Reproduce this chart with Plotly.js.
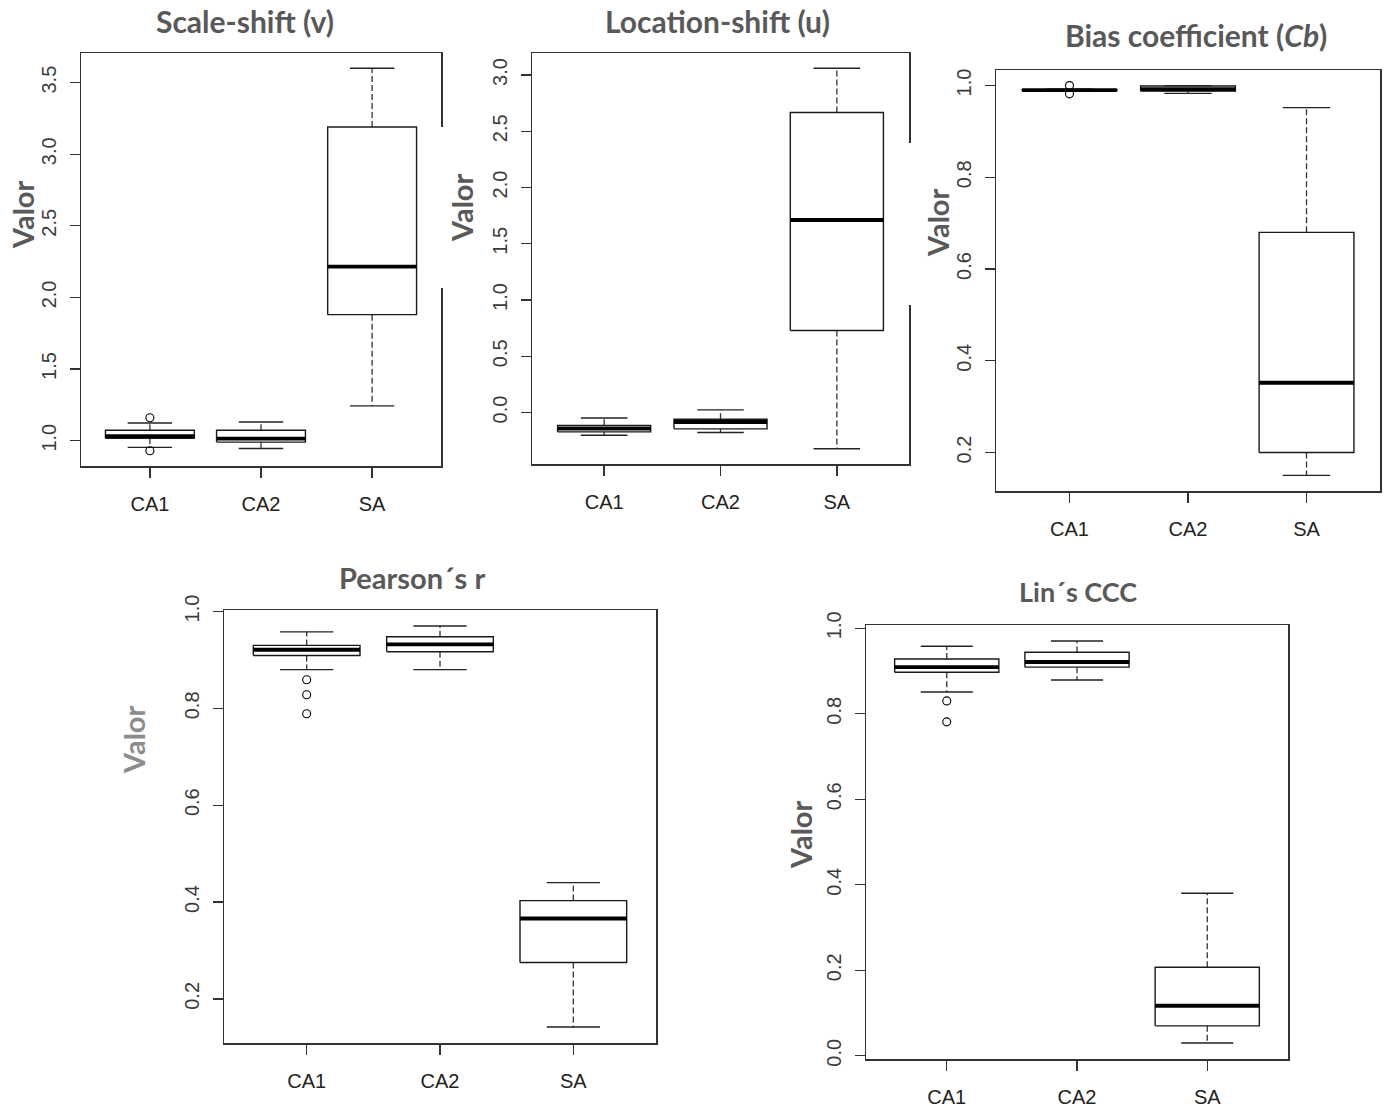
<!DOCTYPE html>
<html><head><meta charset="utf-8">
<script src="https://cdn.plot.ly/plotly-3.0.1.min.js"></script>
<style>html,body{margin:0;padding:0;background:#fff}#chart{width:1385px;height:1116px}</style>
</head><body><div id="chart"></div>
<script>
const categories = ['CA1', 'CA2', 'SA'];

// Scale-shift (v)
const scaleLower    = [0.953, 0.945, 1.243];
const scaleQ1       = [1.017, 0.990, 1.880];
const scaleMedian   = [1.032, 1.015, 2.215];
const scaleQ3       = [1.073, 1.073, 3.190];
const scaleUpper    = [1.123, 1.130, 3.600];
const scaleOutliers = [[1.160, 0.930], [], []];
const scaleTicks    = [1.0, 1.5, 2.0, 2.5, 3.0, 3.5];

// Location-shift (u)
const locLower    = [-0.202, -0.178, -0.322];
const locQ1       = [-0.172, -0.145, 0.729];
const locMedian   = [-0.142, -0.084, 1.711];
const locQ3       = [-0.114, -0.060, 2.666];
const locUpper    = [-0.048, 0.024, 3.060];
const locOutliers = [[], [], []];
const locTicks    = [0.0, 0.5, 1.0, 1.5, 2.0, 2.5, 3.0];

// Bias coefficient (Cb)
const biasLower    = [0.988, 0.983, 0.150];
const biasQ1       = [0.989, 0.988, 0.200];
const biasMedian   = [0.990, 0.992, 0.352];
const biasQ3       = [0.991, 0.999, 0.680];
const biasUpper    = [0.992, 1.000, 0.952];
const biasOutliers = [[1.000, 0.982], [], []];
const biasTicks    = [0.2, 0.4, 0.6, 0.8, 1.0];

// Pearson's r
const pearLower    = [0.880, 0.880, 0.142];
const pearQ1       = [0.909, 0.917, 0.275];
const pearMedian   = [0.921, 0.932, 0.366];
const pearQ3       = [0.930, 0.948, 0.403];
const pearUpper    = [0.958, 0.970, 0.440];
const pearOutliers = [[0.859, 0.828, 0.789], [], []];
const pearTicks    = [0.2, 0.4, 0.6, 0.8, 1.0];

// Lin's CCC
const linLower    = [0.851, 0.879, 0.030];
const linQ1       = [0.897, 0.909, 0.070];
const linMedian   = [0.909, 0.921, 0.117];
const linQ3       = [0.928, 0.944, 0.207];
const linUpper    = [0.958, 0.970, 0.380];
const linOutliers = [[0.830, 0.781], [], []];
const linTicks    = [0.0, 0.2, 0.4, 0.6, 0.8, 1.0];

const panelTitles = ['Scale-shift (v)', 'Location-shift (u)', 'Bias coefficient (<i>Cb</i>)', 'Pearson´s r', 'Lin´s CCC'];
const yTitle = 'Valor';

const W = 1385, H = 1116;
const panels = [
  {lower: scaleLower, q1: scaleQ1, median: scaleMedian, q3: scaleQ3, upper: scaleUpper, outliers: scaleOutliers, ticks: scaleTicks,
   frame: [81, 441, 53, 466], titlePos: [245, 21], titleSize: 30, valorPos: [22, 215], valorColor: '#595959'},
  {lower: locLower, q1: locQ1, median: locMedian, q3: locQ3, upper: locUpper, outliers: locOutliers, ticks: locTicks,
   frame: [532, 909, 53, 464], titlePos: [717, 21], titleSize: 30, valorPos: [462, 208], valorColor: '#595959'},
  {lower: biasLower, q1: biasQ1, median: biasMedian, q3: biasQ3, upper: biasUpper, outliers: biasOutliers, ticks: biasTicks,
   frame: [996, 1380, 70, 491], titlePos: [1196, 35], titleSize: 30, valorPos: [937, 222], valorColor: '#595959'},
  {lower: pearLower, q1: pearQ1, median: pearMedian, q3: pearQ3, upper: pearUpper, outliers: pearOutliers, ticks: pearTicks,
   frame: [224, 656, 610, 1043], titlePos: [412, 577], titleSize: 29, valorPos: [133, 740], valorColor: '#8c8c8c'},
  {lower: linLower, q1: linQ1, median: linMedian, q3: linQ3, upper: linUpper, outliers: linOutliers, ticks: linTicks,
   frame: [866, 1288, 625, 1059], titlePos: [1078, 591], titleSize: 27, valorPos: [800, 835], valorColor: '#595959'}
];

const traces = [];
const layout = {
  width: W, height: H, margin: {l: 0, r: 0, t: 0, b: 0},
  showlegend: false, paper_bgcolor: '#ffffff', plot_bgcolor: '#ffffff',
  annotations: [], shapes: []
};
const titleFont = 'Lato, "Open Sans", sans-serif';
const axisFont = '"Liberation Sans", Arial, sans-serif';

panels.forEach((p, k) => {
  const n = k === 0 ? '' : String(k + 1);
  const xa = 'x' + n, ya = 'y' + n;
  const wx = [], wy = [], cx = [], cy = [], mx = [], my = [], ox = [], oy = [];
  let lo = Infinity, hi = -Infinity;
  categories.forEach((c, i) => {
    const xi = i + 1;
    wx.push(xi, xi, null, xi, xi, null);
    wy.push(p.q3[i], p.upper[i], null, p.q1[i], p.lower[i], null);
    cx.push(xi - 0.2, xi + 0.2, null, xi - 0.2, xi + 0.2, null);
    cy.push(p.upper[i], p.upper[i], null, p.lower[i], p.lower[i], null);
    mx.push(xi - 0.4, xi + 0.4, null);
    my.push(p.median[i], p.median[i], null);
    p.outliers[i].forEach(v => { ox.push(xi); oy.push(v); });
    lo = Math.min(lo, p.lower[i], ...p.outliers[i]);
    hi = Math.max(hi, p.upper[i], ...p.outliers[i]);
  });
  traces.push({type: 'scatter', mode: 'lines', x: wx, y: wy, xaxis: xa, yaxis: ya,
    line: {color: '#333', width: 1.3, dash: '6px,3px'}, hoverinfo: 'skip'});
  categories.forEach((c, i) => {
    const xi = i + 1;
    traces.push({type: 'scatter', mode: 'lines', xaxis: xa, yaxis: ya,
      x: [xi - 0.4, xi + 0.4, xi + 0.4, xi - 0.4, xi - 0.4],
      y: [p.q1[i], p.q1[i], p.q3[i], p.q3[i], p.q1[i]],
      fill: 'toself', fillcolor: '#ffffff', line: {color: '#1a1a1a', width: 1.4}, name: c});
  });
  traces.push({type: 'scatter', mode: 'lines', x: cx, y: cy, xaxis: xa, yaxis: ya,
    line: {color: '#222', width: 1.4}, hoverinfo: 'skip'});
  traces.push({type: 'scatter', mode: 'lines', x: mx, y: my, xaxis: xa, yaxis: ya,
    line: {color: '#000', width: 3.8}, hoverinfo: 'skip'});
  if (ox.length) {
    traces.push({type: 'scatter', mode: 'markers', x: ox, y: oy, xaxis: xa, yaxis: ya,
      marker: {symbol: 'circle-open', size: 8, color: '#000', line: {width: 1.1}}});
  }
  const pad = (hi - lo) * 0.04;
  const f = p.frame;
  layout['xaxis' + n] = {
    domain: [f[0] / W, f[1] / W], range: [0.38, 3.62], anchor: ya,
    tickvals: [1, 2, 3], ticktext: categories, ticks: 'outside', ticklen: 10, tickwidth: 1.3, tickcolor: '#333',
    showline: true, mirror: true, linecolor: '#333', linewidth: 1.5, showgrid: false, zeroline: false,
    tickfont: {family: axisFont, size: 20, color: '#222'}, ticklabelstandoff: 9, fixedrange: true
  };
  layout['yaxis' + n] = {
    domain: [1 - f[3] / H, 1 - f[2] / H], range: [lo - pad, hi + pad], anchor: xa,
    tickvals: p.ticks, tickformat: '.1f', tickangle: -90, ticks: 'outside', ticklen: 10, tickwidth: 1.3, tickcolor: '#333',
    showline: true, mirror: true, linecolor: '#333', linewidth: 1.5, showgrid: false, zeroline: false,
    tickfont: {family: axisFont, size: 20, color: '#3a3a3a'}, ticklabelstandoff: 6, fixedrange: true
  };
  layout.annotations.push({xref: 'paper', yref: 'paper', x: p.titlePos[0] / W, y: 1 - p.titlePos[1] / H,
    text: panelTitles[k], showarrow: false, xanchor: 'center', yanchor: 'middle',
    font: {family: titleFont, size: p.titleSize, color: '#595959', weight: 700}});
  layout.annotations.push({xref: 'paper', yref: 'paper', x: p.valorPos[0] / W, y: 1 - p.valorPos[1] / H,
    text: yTitle, showarrow: false, textangle: -90, xanchor: 'center', yanchor: 'middle',
    font: {family: titleFont, size: 29, color: p.valorColor, weight: 700}});
});

// gaps in right borders of the first two frames (overlapped by neighbouring panels)
layout.shapes.push({type: 'rect', xref: 'paper', yref: 'paper', layer: 'above',
  x0: 437 / W, x1: 446 / W, y0: 1 - 288 / H, y1: 1 - 127 / H, fillcolor: '#fff', line: {width: 0}});
layout.shapes.push({type: 'rect', xref: 'paper', yref: 'paper', layer: 'above',
  x0: 905 / W, x1: 914 / W, y0: 1 - 305 / H, y1: 1 - 143 / H, fillcolor: '#fff', line: {width: 0}});

Plotly.newPlot('chart', traces, layout, {displayModeBar: false, staticPlot: true});
</script>
</body></html>
